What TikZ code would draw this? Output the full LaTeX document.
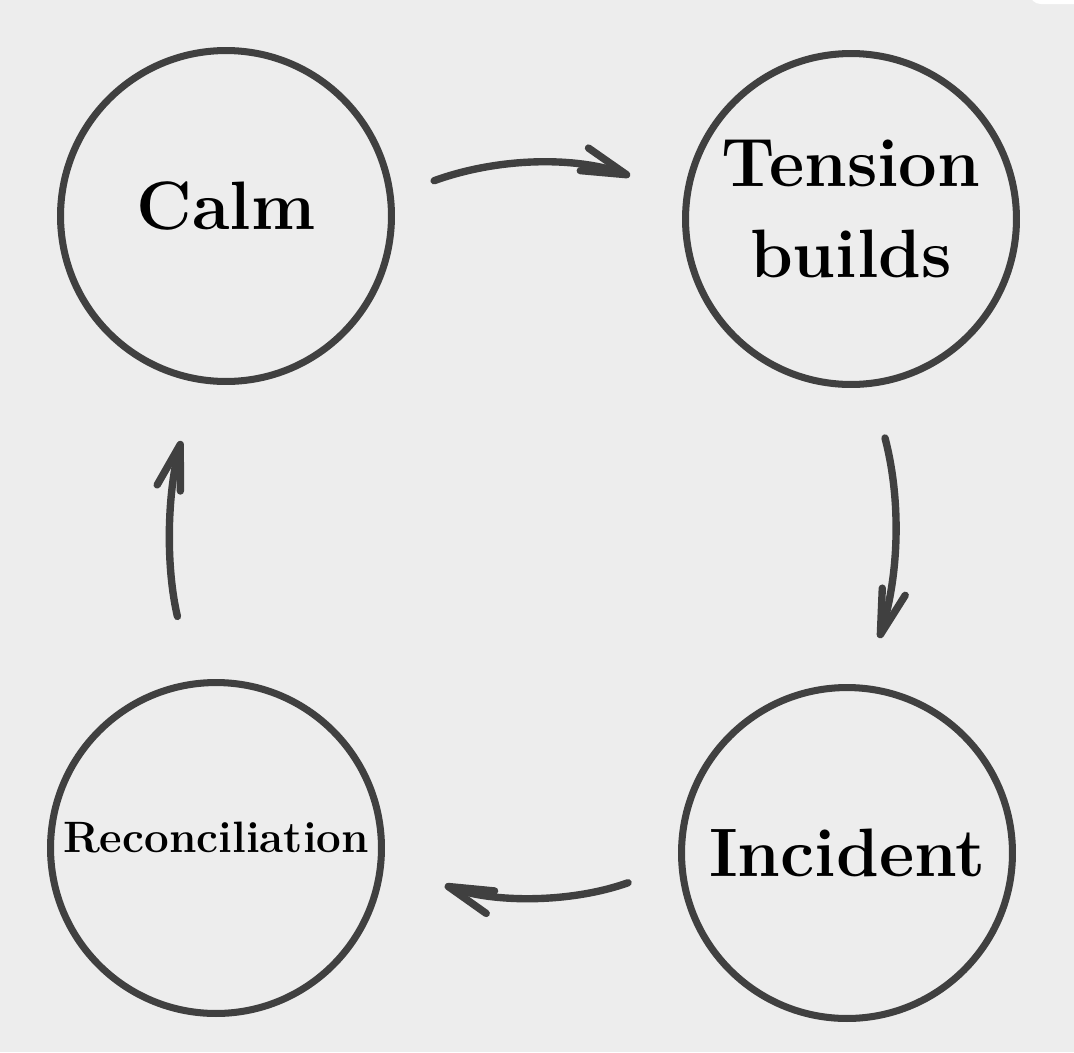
\documentclass[tikz,border=0pt]{standalone}
\usepackage{fontspec}
\usepackage{tikz}
\usetikzlibrary{arrows.meta}
\definecolor{ink}{HTML}{404040}
\definecolor{paper}{HTML}{EDEDED}

\begin{document}
\begin{tikzpicture}[x=0.02cm, y=-0.02cm,
  stage/.style={circle, draw=ink, line width=4pt, minimum size=6.62cm, inner sep=0pt,
    align=center, font=\bfseries\fontsize{39}{51.5}\selectfont},
  flow/.style={draw=ink, line width=4.2pt, line cap=round, line join=round,
    -{Straight Barb[length=9mm, width=4.8mm, round]}}]
  \useasboundingbox[fill=paper] (0,0) rectangle (1074,1052);
  \fill[white, rounded corners=6pt] (1030,-20) rectangle (1100,4);

  % the four stages of the cycle
  \node[stage, text depth=0.42cm] (calm) at (226,216) {Calm};
  \node[stage, text depth=0.42cm] (tension) at (851,219) {Tension\\builds};
  \node[stage] (incident) at (847,853) {Incident};
  \node[stage, text depth=0.44cm, font=\bfseries\fontsize{25}{30}\selectfont] (recon) at (216,848) {Reconciliation};

  % arrows round the cycle
  \draw[flow, shorten <=0.86cm, shorten >=1.14cm] (calm.7) to[bend left=20] (tension.172);
  \draw[flow, shorten <=1.06cm, shorten >=0.98cm] (tension.-83) to[bend left=16] (incident.84);
  \draw[flow, shorten <=1.07cm, shorten >=1.29cm] (incident.-176) to[bend left=20] (recon.-5);
  \draw[flow, shorten <=1.32cm, shorten >=1.21cm] (recon.98) to[bend left=14] (calm.-100);
\end{tikzpicture}
\end{document}
